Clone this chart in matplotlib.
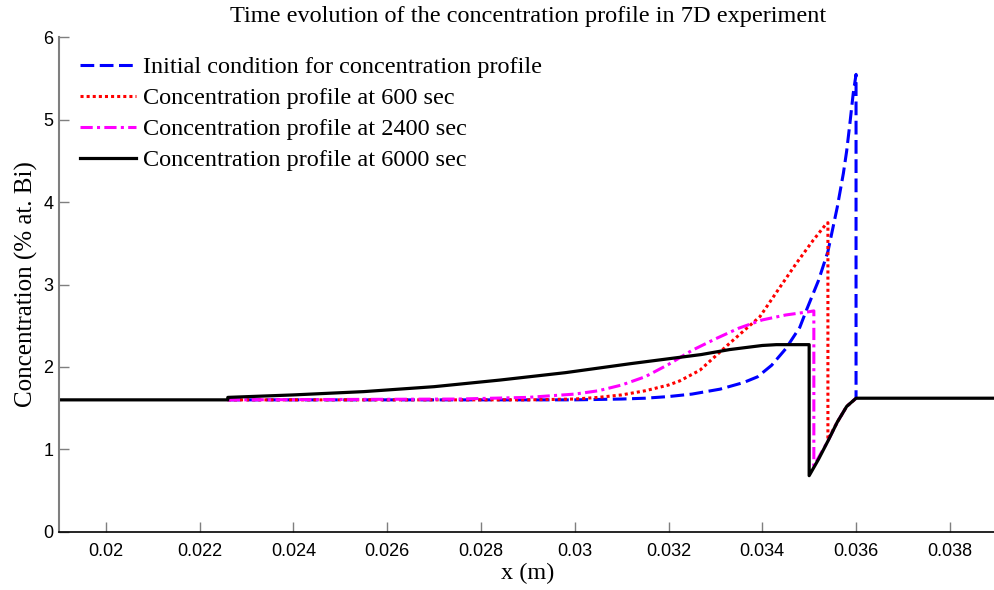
import numpy as np
import matplotlib.pyplot as plt

# ---------------- data ----------------
# initial condition (blue dashed)
x_init = [0.0226, 0.0280, 0.0300, 0.0310, 0.0315, 0.0320, 0.0325, 0.0331, 0.0336,
          0.0339, 0.0342, 0.0345, 0.0348, 0.03495, 0.0352, 0.0354, 0.0356, 0.03573,
          0.0358, 0.03587, 0.03594, 0.0360, 0.0360]
c_init = [1.60, 1.60, 1.60, 1.61, 1.62, 1.64, 1.67, 1.73, 1.81,
          1.88, 2.02, 2.22, 2.48, 2.70, 3.05, 3.40, 3.94, 4.35,
          4.62, 4.96, 5.32, 5.55, 1.62]

# 600 sec (red dotted)
x_600 = [0.0226, 0.0290, 0.0300, 0.0305, 0.0310, 0.0315, 0.0320, 0.03224, 0.03267,
         0.03331, 0.03395, 0.03438, 0.03473, 0.03509, 0.03537, 0.0354, 0.0354,
         0.0356, 0.0358, 0.0360]
c_600 = [1.60, 1.60, 1.61, 1.63, 1.66, 1.71, 1.78, 1.83, 1.96,
         2.29, 2.61, 2.97, 3.26, 3.54, 3.74, 3.75, 1.12,
         1.33, 1.52, 1.62]

# 2400 sec (magenta dash-dot)
x_2400 = [0.0226, 0.0275, 0.0290, 0.0300, 0.0305, 0.0310, 0.0315, 0.0320, 0.0325,
          0.0330, 0.0335, 0.0340, 0.0345, 0.0350, 0.0351, 0.0351,
          0.0354, 0.0356, 0.0358, 0.0360]
c_2400 = [1.60, 1.61, 1.63, 1.67, 1.71, 1.78, 1.88, 2.03, 2.20,
          2.34, 2.47, 2.57, 2.63, 2.67, 2.68, 0.80,
          1.10, 1.33, 1.52, 1.62]

# 6000 sec (black solid)
x_6000 = [0.0190, 0.0226, 0.0226, 0.0240, 0.0255, 0.0270, 0.0284, 0.0298, 0.0312,
          0.0327, 0.0333, 0.0340, 0.0343, 0.0350, 0.0350,
          0.0352, 0.0354, 0.0356, 0.0358, 0.0360, 0.0390]
c_6000 = [1.60, 1.60, 1.63, 1.66, 1.70, 1.76, 1.84, 1.93, 2.04,
          2.15, 2.21, 2.26, 2.27, 2.27, 0.68,
          0.88, 1.10, 1.33, 1.52, 1.62, 1.62]

labels = ["Initial condition for concentration profile",
          "Concentration profile at 600 sec",
          "Concentration profile at 2400 sec",
          "Concentration profile at 6000 sec"]

x_ticks = [0.02, 0.022, 0.024, 0.026, 0.028, 0.03, 0.032, 0.034, 0.036, 0.038]
x_ticklabels = ["0.02", "0.022", "0.024", "0.026", "0.028", "0.03",
                "0.032", "0.034", "0.036", "0.038"]
y_ticks = [0, 1, 2, 3, 4, 5, 6]

# ---------------- plot ----------------
serif = "Liberation Serif"
sans = "Liberation Sans"

fig = plt.figure(figsize=(9.94, 5.9), dpi=100)
ax = fig.add_axes([59/994, (590-531.7)/590, (996.7-59)/994, (531.7-37.3)/590])

ax.plot(x_init, c_init, '--', color='#0000ff', lw=2.2, dashes=(4.5, 1.8), label=labels[0])
ax.plot(x_600, c_600, ':', color='#ff0000', lw=2.2, dashes=(1, 1), label=labels[1])
ax.plot(x_2400, c_2400, '-.', color='#ff00ff', lw=2.2, dashes=(4, 1.4, 1, 1.4), label=labels[2])
ax.plot(x_6000, c_6000, '-', color='black', lw=2.3, label=labels[3])

ax.set_xlim(0.019, 0.039)
ax.set_ylim(0, 6)
ax.set_xticks(x_ticks)
ax.set_xticklabels(x_ticklabels, fontfamily=sans, fontsize=13)
ax.set_yticks(y_ticks)
ax.set_yticklabels([str(v) for v in y_ticks], fontfamily=sans, fontsize=13)
ax.tick_params(direction='in', length=7, width=1, color='#7f7f7f')
ax.tick_params(axis='x', pad=8)
ax.tick_params(axis='y', pad=4)

ax.spines['top'].set_visible(False)
ax.spines['right'].set_visible(False)
ax.spines['left'].set_color('#7f7f7f')
ax.spines['left'].set_linewidth(1.5)
ax.spines['bottom'].set_color('black')
ax.spines['bottom'].set_linewidth(1.2)

ax.set_title("Time evolution of the concentration profile in 7D experiment",
             fontfamily=serif, fontsize=17.5, pad=11)
ax.set_xlabel("x (m)", fontfamily=serif, fontsize=17.5, labelpad=2)
ax.set_ylabel("Concentration (% at. Bi)", fontfamily=serif, fontsize=18, labelpad=4)

ax.legend(loc='upper left', bbox_to_anchor=(0.0224, 0.962), frameon=False,
          prop={'family': serif, 'size': 17.5}, handlelength=2.3,
          handletextpad=0.3, labelspacing=0.37, borderpad=0, borderaxespad=0)

fig.savefig("out.png", dpi=100)
